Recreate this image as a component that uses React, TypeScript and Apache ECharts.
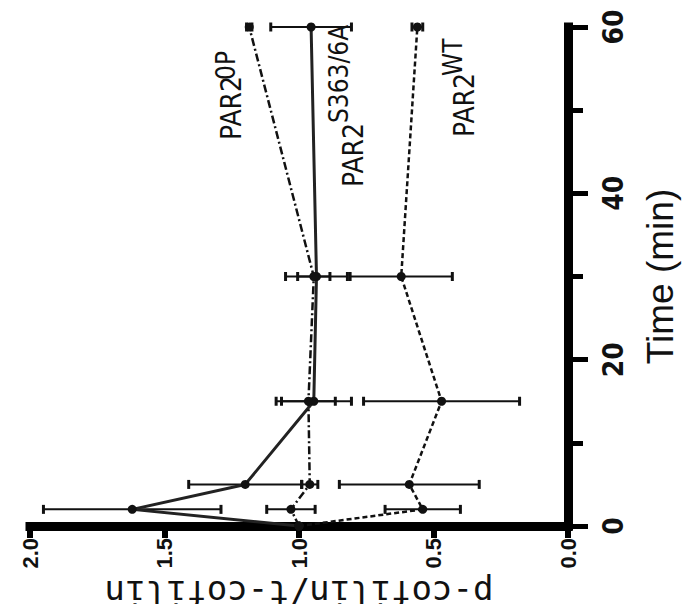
import React, { useEffect, useRef } from "react";
import * as echarts from "echarts";

const times = [0, 2, 5, 15, 30, 60];
const wtValues = [1.0, 0.54, 0.59, 0.47, 0.62, 0.56];
const wtErrors = [0, 0.14, 0.26, 0.29, 0.19, 0.02];
const s363Values = [1.0, 1.62, 1.2, 0.945, 0.935, 0.955];
const s363Errors = [0, 0.33, 0.21, 0.14, 0.115, 0.15];
const opValues = [1.0, 1.03, 0.96, 0.965, 0.945, 1.185];
const opErrors = [0, 0.09, 0.03, 0.1, 0.06, 0.01];

const valueTicks = [0, 0.5, 1.0, 1.5, 2.0];
const timeTicks = [0, 20, 40, 60];

const NARROW = "'Liberation Sans Narrow', 'DejaVu Sans Condensed', 'Liberation Sans', sans-serif";
const SANS = "'Liberation Sans', Arial, sans-serif";
const MONO = "'DejaVu Sans Mono', 'Liberation Mono', monospace";

function pairs(vals: number[]) {
  return vals.map((v, i) => [v, times[i]]);
}
function errPairs(vals: number[], errs: number[]) {
  return vals.map((v, i) => [v, times[i], errs[i]]);
}

function errorRender(params: any, api: any) {
  const v = api.value(0);
  const t = api.value(1);
  const e = api.value(2);
  if (!e) return null;
  const p1 = api.coord([v - e, t]);
  const p2 = api.coord([v + e, t]);
  const cap = 4.5;
  const style = { stroke: "#111", lineWidth: 2 };
  const capStyle = { stroke: "#111", lineWidth: 3 };
  return {
    type: "group",
    children: [
      { type: "line", shape: { x1: p1[0], y1: p1[1], x2: p2[0], y2: p2[1] }, style },
      { type: "line", shape: { x1: p1[0], y1: p1[1] - cap, x2: p1[0], y2: p1[1] + cap }, style: capStyle },
      { type: "line", shape: { x1: p2[0], y1: p2[1] - cap, x2: p2[0], y2: p2[1] + cap }, style: capStyle },
    ],
  };
}

function label(main: string, sup: string, mx: number, my: number, sx: number, sy: number) {
  return [
    {
      type: "text",
      x: mx,
      y: my,
      rotation: Math.PI / 2,
      style: { text: main, fontSize: 28, fontFamily: NARROW, fill: "#111", align: "left", verticalAlign: "middle" },
    },
    {
      type: "text",
      x: sx,
      y: sy,
      rotation: Math.PI / 2,
      style: { text: sup, fontSize: 26, fontFamily: NARROW, fill: "#111", align: "left", verticalAlign: "middle" },
    },
  ];
}

export default function App() {
  const ref = useRef<HTMLDivElement>(null);
  useEffect(() => {
    if (!ref.current) return;
    const chart = echarts.init(ref.current, undefined, { renderer: "svg" });
    const lineCommon = {
      type: "line",
      symbol: "circle",
      symbolSize: 9,
      itemStyle: { color: "#111" },
      z: 3,
    };
    const errCommon = {
      type: "custom",
      renderItem: errorRender,
      encode: { x: 0, y: 1 },
      z: 2,
      clip: false,
    };
    chart.setOption({
      animation: false,
      backgroundColor: "#fff",
      grid: { left: 30, right: 127, top: 27, bottom: 86, containLabel: false, outerBoundsMode: "none" },
      xAxis: {
        type: "value",
        min: 0,
        max: 2,
        interval: 0.5,
        inverse: true,
        position: "bottom",
        name: "p-cofilin/t-cofilin",
        nameLocation: "middle",
        nameRotate: 180,
        nameGap: 50,
        nameTextStyle: { fontSize: 34, fontFamily: MONO, color: "#111" },
        axisLine: { onZero: false, lineStyle: { color: "#000", width: 9, cap: "square" } },
        axisTick: { length: 12, lineStyle: { color: "#000", width: 6 } },
        axisLabel: {
          rotate: 90,
          margin: 12,
          fontSize: 22,
          fontWeight: "bold",
          fontFamily: SANS,
          color: "#111",
          formatter: (v: number) => (valueTicks.includes(v) ? v.toFixed(1) : ""),
        },
        splitLine: { show: false },
      },
      yAxis: {
        type: "value",
        min: 0,
        max: 60,
        interval: 20,
        position: "right",
        name: "Time (min)",
        nameLocation: "middle",
        nameRotate: 90,
        nameGap: 74,
        nameTextStyle: { fontSize: 37, fontFamily: SANS, color: "#111" },
        axisLine: { onZero: false, lineStyle: { color: "#000", width: 9, cap: "square" } },
        axisTick: { length: 20, lineStyle: { color: "#000", width: 5 } },
        minorTick: { show: true, splitNumber: 2, length: 15, lineStyle: { color: "#000", width: 5 } },
        axisLabel: {
          rotate: 90,
          margin: 31,
          fontSize: 28,
          fontWeight: "bold",
          fontFamily: NARROW,
          color: "#111",
          formatter: (v: number) => (timeTicks.includes(v) ? String(v) : ""),
        },
        splitLine: { show: false },
        minorSplitLine: { show: false },
      },
      graphic: [
        ...label("PAR2", "0P", 231, 140, 226, 80),
        ...label("PAR2", "S363/6A", 353, 187, 339, 123),
        ...label("PAR2", "WT", 464, 137, 453, 76),
      ],
      series: [
        { ...errCommon, name: "WT err", data: errPairs(wtValues, wtErrors) },
        { ...errCommon, name: "S363 err", data: errPairs(s363Values, s363Errors) },
        { ...errCommon, name: "OP err", data: errPairs(opValues, opErrors) },
        {
          ...lineCommon,
          name: "PAR2 WT",
          data: pairs(wtValues),
          lineStyle: { color: "#111", width: 2.5, type: [5, 3] },
        },
        {
          ...lineCommon,
          name: "PAR2 S363/6A",
          data: pairs(s363Values),
          lineStyle: { color: "#222", width: 3 },
        },
        {
          ...lineCommon,
          name: "PAR2 0P",
          data: pairs(opValues),
          lineStyle: { color: "#111", width: 2.5, type: [8, 3, 2, 3] },
        },
      ],
    });
    return () => chart.dispose();
  }, []);
  return <div ref={ref} style={{ width: 695, height: 612, margin: -8 }} />;
}
